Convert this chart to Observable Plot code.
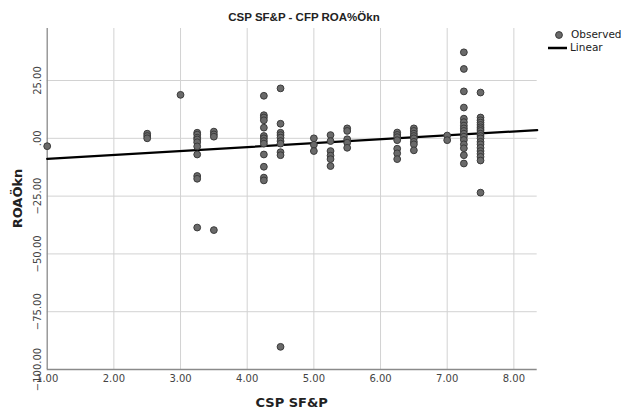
<!DOCTYPE html>
<html>
<head>
<meta charset="utf-8">
<script src="https://cdn.jsdelivr.net/npm/d3@7"></script>
<script src="https://cdn.jsdelivr.net/npm/@observablehq/plot@0.6"></script>
<style>
  html, body { margin: 0; padding: 0; background: #fff; }
  #chart svg { display: block; }
</style>
</head>
<body>
<div id="chart"></div>
<script>
// CSP SF&P score levels and the ROA change observed at each level
const sfpLevels = [1.0, 2.5, 3.0, 3.25, 3.5, 4.25, 4.5, 5.0, 5.25, 5.5, 6.25, 6.5, 7.0, 7.25, 7.5];
const roaByLevel = [
  [-3.4],
  [2, 1, 0],
  [18.8],
  [2.4, 1.6, 0.3, -0.5, -1.7, -3.5, -7, -16.3, -17.5, -38.6],
  [2.9, 1.7, 0.7, -39.7],
  [18.4, 10, 9, 7.8, 4.6, 1, 0, -1.2, -2.3, -7, -12.3, -17, -18.2],
  [21.6, 6.3, 2.4, 1.4, 0.3, -1.2, -2.3, -6, -7.3, -90.2],
  [0, -2.8, -5.5],
  [1.4, -1.2, -5.5, -7.5, -9, -12],
  [4.3, 3.2, -0.4, -1.9, -4.1],
  [2.5, 1.5, 0.5, -0.8, -4.5, -6.5, -9],
  [4.3, 3.2, 2, 1, 0, -1.5, -2.6, -5.2],
  [1.2, -0.8],
  [37.2, 30, 20.3, 13.3, 8.5, 7, 5.5, 4.3, 3.2, 2, 0.7, -0.7, -2.6, -4.3, -7.3, -10.9],
  [19.8, 9, 7.8, 6.8, 5.8, 4.8, 4, 3.2, 2, 1, 0, -1.5, -2.6, -4.1, -5.5, -6.7, -8, -9.6, -23.5]
];

const xTicks = [1, 2, 3, 4, 5, 6, 7, 8];
const yTicks = [-100, -75, -50, -25, 0, 25];
const xDomain = [1, 8.35];
const yDomain = [-100, 47.5];

const title = "CSP SF&P - CFP ROA%Ökn";
const xLabel = "CSP SF&P";
const yLabel = "ROAÖkn";
const legendLabels = ["Observed", "Linear"];

// long table of observations
const obs = sfpLevels.flatMap((x, i) => roaByLevel[i].map(y => ({x, y})));

// ordinary least squares fit, drawn across the whole x range
const mx = d3.mean(obs, d => d.x), my = d3.mean(obs, d => d.y);
const slope = d3.sum(obs, d => (d.x - mx) * (d.y - my)) / d3.sum(obs, d => (d.x - mx) ** 2);
const intercept = my - slope * mx;
const fit = xDomain.map(x => ({x, y: intercept + slope * x}));

const fmt = v => v === 0 ? ".00" : d3.format(".2f")(v);
const font = "'DejaVu Sans', sans-serif";

const W = 621, H = 414, mL = 46.7, mR = 84.3, mT = 28, mB = 45;

const chart = Plot.plot({
  width: W, height: H,
  marginLeft: mL, marginRight: mR, marginTop: mT, marginBottom: mB,
  x: {domain: xDomain, axis: null},
  y: {domain: yDomain, axis: null},
  style: {fontFamily: font, background: "#fff", color: "#333"},
  marks: [
    Plot.gridX(xTicks.filter(t => t > xDomain[0]), {stroke: "#d2d2d2", strokeOpacity: 1, strokeWidth: 1}),
    Plot.gridY(yTicks.filter(t => t > yDomain[0]), {stroke: "#d2d2d2", strokeOpacity: 1, strokeWidth: 1}),
    Plot.ruleX([xDomain[0]], {stroke: "#8a8a8a", strokeWidth: 1.3}),
    Plot.ruleY([yDomain[0]], {stroke: "#8a8a8a", strokeWidth: 1.3}),
    Plot.axisX(xTicks, {tickSize: 0, tickPadding: 5, tickFormat: fmt, label: null, fontSize: 10, fill: "#444"}),
    Plot.text(yTicks, {
      y: d => d, frameAnchor: "left", dx: -9, rotate: -90,
      text: fmt, fontSize: 10, fill: "#444", textAnchor: "middle", lineAnchor: "middle"
    }),
    Plot.line(fit, {x: "x", y: "y", stroke: "#000", strokeWidth: 2.2}),
    Plot.dot(obs, {x: "x", y: "y", r: 3.4, fill: "#6a6a6a", stroke: "#3a3a3a", strokeWidth: 1})
  ]
});

document.getElementById("chart").appendChild(chart);

// title, axis titles and legend inside the svg
const svg = d3.select(chart);
const g = svg.append("g").attr("font-family", font).attr("fill", "#222");

g.append("text").attr("x", 304).attr("y", 18).attr("text-anchor", "middle")
  .attr("font-family", "'Liberation Sans', Arial, sans-serif")
  .attr("dominant-baseline", "middle").attr("font-size", 11.5).attr("font-weight", "bold").text(title);

g.append("text").attr("x", mL + (W - mL - mR) / 2).attr("y", 403).attr("text-anchor", "middle")
  .attr("dominant-baseline", "middle").attr("font-size", 13).attr("font-weight", "bold").text(xLabel);

g.append("text").attr("transform", `translate(18,${mT + (H - mT - mB) / 2}) rotate(-90)`)
  .attr("text-anchor", "middle").attr("dominant-baseline", "middle")
  .attr("font-size", 13).attr("font-weight", "bold").text(yLabel);

const lg = g.append("g").attr("font-size", 10.5).attr("text-anchor", "start");
lg.append("circle").attr("cx", 559).attr("cy", 35).attr("r", 3.4)
  .attr("fill", "#6a6a6a").attr("stroke", "#3a3a3a");
lg.append("text").attr("x", 571).attr("y", 35).attr("dominant-baseline", "middle").text(legendLabels[0]);
lg.append("line").attr("x1", 548).attr("x2", 567).attr("y1", 48).attr("y2", 48)
  .attr("stroke", "#000").attr("stroke-width", 2.5);
lg.append("text").attr("x", 570).attr("y", 48).attr("dominant-baseline", "middle").text(legendLabels[1]);
</script>
</body>
</html>
